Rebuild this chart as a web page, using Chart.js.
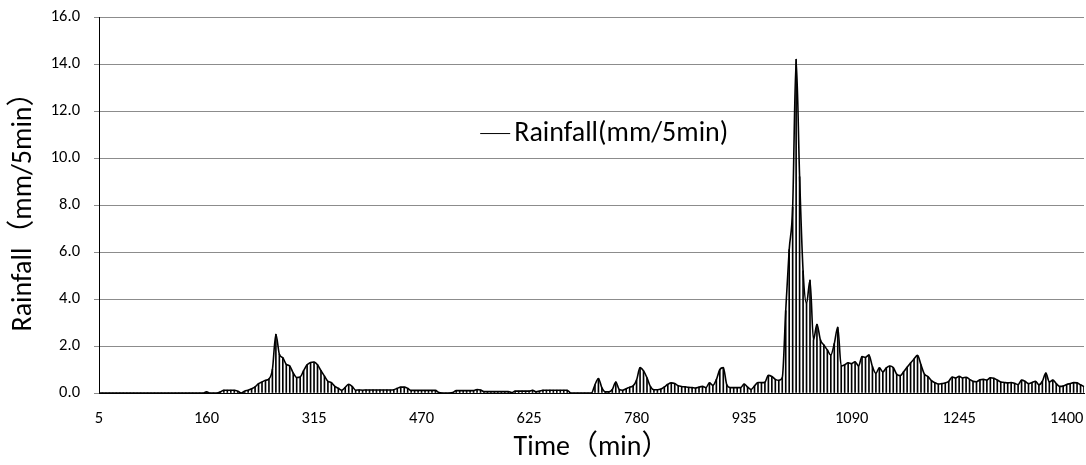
<!DOCTYPE html>
<html>
<head>
<meta charset="utf-8">
<title>Rainfall</title>
<script src="https://cdn.jsdelivr.net/npm/chart.js@4.4.0/dist/chart.umd.min.js"></script>
<style>
  html, body { margin: 0; padding: 0; background: #fff; }
</style>
</head>
<body>
<canvas id="chart" width="1086" height="465"></canvas>
<script>
// Zeitachse: alle 5 Minuten, Start bei 5 min
const startMin = 5;
const stepMin = 5;

// Niederschlag (mm/5min)
const rainfall = [
  0, 0, 0, 0, 0, 0, 0, 0, 0, 0,
  0, 0, 0, 0, 0, 0, 0, 0, 0, 0,
  0, 0, 0, 0, 0, 0, 0, 0, 0, 0,
  0, 0.05, 0, 0, 0, 0.05, 0.12, 0.12, 0.12, 0.12,
  0.08, 0, 0.08, 0.12, 0.18, 0.26, 0.4, 0.47, 0.54, 0.6,
  1.0, 2.5, 1.65, 1.5, 1.22, 1.15, 0.85, 0.66, 0.68, 0.95,
  1.2, 1.3, 1.32, 1.2, 0.95, 0.72, 0.5, 0.44, 0.28, 0.2,
  0.12, 0.24, 0.37, 0.28, 0.12, 0.13, 0.12, 0.13, 0.13, 0.13,
  0.13, 0.13, 0.13, 0.13, 0.13, 0.14, 0.2, 0.25, 0.25, 0.2,
  0.11, 0.11, 0.11, 0.11, 0.11, 0.11, 0.11, 0.11, 0.02, 0,
  0, 0, 0.02, 0.1, 0.1, 0.1, 0.1, 0.1, 0.1, 0.15,
  0.13, 0.06, 0.06, 0.06, 0.06, 0.06, 0.06, 0.06, 0.06, 0.02,
  0.08, 0.08, 0.08, 0.08, 0.08, 0.12, 0.05, 0.08, 0.12, 0.12,
  0.12, 0.12, 0.12, 0.12, 0.12, 0.12, 0, 0, 0, 0,
  0, 0, 0, 0.35, 0.62, 0.22, 0.05, 0.05, 0.15, 0.47,
  0.15, 0.12, 0.18, 0.25, 0.3, 0.55, 1.08, 0.94, 0.65, 0.27,
  0.14, 0.14, 0.17, 0.26, 0.37, 0.43, 0.4, 0.31, 0.28, 0.26,
  0.24, 0.23, 0.21, 0.25, 0.28, 0.23, 0.43, 0.33, 0.57, 1.0,
  1.08, 0.35, 0.23, 0.23, 0.23, 0.23, 0.38, 0.25, 0.15, 0.3,
  0.45, 0.44, 0.46, 0.75, 0.7, 0.58, 0.54, 0.65, 3.5, 6.1,
  7.9, 14.2, 9.2, 5.2, 3.8, 4.8, 2.26, 2.92, 2.26, 2.04,
  1.83, 1.62, 2.1, 2.8, 1.15, 1.2, 1.29, 1.25, 1.33, 1.15,
  1.55, 1.52, 1.62, 1.12, 0.84, 1.07, 0.9, 1.07, 1.15, 1.08,
  0.8, 0.74, 0.9, 1.1, 1.28, 1.45, 1.6, 1.2, 0.8, 0.7,
  0.53, 0.44, 0.38, 0.4, 0.43, 0.5, 0.68, 0.64, 0.71, 0.64,
  0.67, 0.58, 0.5, 0.48, 0.56, 0.58, 0.55, 0.65, 0.63, 0.55,
  0.47, 0.45, 0.43, 0.45, 0.41, 0.36, 0.55, 0.5, 0.4, 0.45,
  0.5, 0.35, 0.5, 0.85, 0.47, 0.55, 0.4, 0.28, 0.3, 0.36,
  0.4, 0.44, 0.43, 0.35, 0.27
];

// beschriftete Zeitpunkte auf der x-Achse
const xTickLabels = ['5', '160', '315', '470', '625', '780', '935', '1090', '1245', '1400'];

// y-Achse
const yMin = 0;
const yMax = 16;
const yStep = 2;

const times = rainfall.map((v, i) => String(startMin + i * stepMin));

const fontFamily = 'Carlito, Lato, "Noto Sans CJK SC", sans-serif';
Chart.defaults.font.family = fontFamily;
Chart.defaults.color = '#000';

// Legende direkt im Diagrammbereich
const innenLegende = {
    id: 'innenLegende',
    afterDraw(chart, args, opts) {
        const { ctx, chartArea: a } = chart;
        const x = a.left + a.width * opts.x;
        const y = a.top + a.height * opts.y;
        ctx.save();
        ctx.strokeStyle = '#000';
        ctx.lineWidth = 1;
        ctx.beginPath();
        ctx.moveTo(x, y);
        ctx.lineTo(x + 30, y);
        ctx.stroke();
        ctx.fillStyle = '#000';
        ctx.font = '28px ' + fontFamily;
        ctx.textBaseline = 'middle';
        ctx.fillText(chart.data.datasets[1].label, x + 34, y);
        ctx.restore();
    }
};

new Chart(document.getElementById('chart'), {
    type: 'bar',
    data: {
        labels: times,
        datasets: [
            {
                type: 'bar',
                label: 'Rainfall bars',
                data: rainfall,
                backgroundColor: '#000',
                barThickness: 1,
                order: 2
            },
            {
                type: 'line',
                label: 'Rainfall(mm/5min)',
                data: rainfall,
                borderColor: '#000',
                borderWidth: 1.6,
                pointRadius: 0,
                cubicInterpolationMode: 'monotone',
                fill: false,
                order: 1
            }
        ]
    },
    options: {
        responsive: false,
        animation: false,
        devicePixelRatio: 1,
        layout: { padding: { left: 0, right: 2, top: 17, bottom: 0 } },
        plugins: {
            legend: { display: false },
            tooltip: { enabled: false },
            innenLegende: { x: 0.387, y: 0.31 }
        },
        scales: {
            x: {
                offset: false,
                grid: { display: false },
                border: { display: true, color: '#000', width: 1 },
                ticks: {
                    autoSkip: false,
                    maxRotation: 0,
                    minRotation: 0,
                    padding: 8,
                    font: { size: 16.5 },
                    callback: function (value) {
                        const l = this.getLabelForValue(value);
                        return xTickLabels.includes(l) ? l : null;
                    }
                },
                title: {
                    display: true,
                    text: 'Time（min）',
                    font: { size: 28 },
                    padding: { top: 0, bottom: 0 }
                },
                afterFit(scale) {
                    scale.height = 72;
                    scale.paddingLeft = 0;
                    scale.paddingRight = 0;
                }
            },
            y: {
                min: yMin,
                max: yMax,
                grid: { color: '#8c8c8c', lineWidth: 1, tickLength: 5 },
                border: { display: true, color: '#000', width: 1 },
                ticks: {
                    stepSize: yStep,
                    padding: 14,
                    font: { size: 16.5 },
                    callback: v => v.toFixed(1)
                },
                title: {
                    display: true,
                    text: 'Rainfall（mm/5min）',
                    font: { size: 28 },
                    padding: { top: 7, bottom: 0 }
                },
                afterFit(scale) {
                    scale.width = 99;
                    scale.paddingTop = 0;
                    scale.paddingBottom = 0;
                }
            }
        }
    },
    plugins: [innenLegende]
});
</script>
</body>
</html>
